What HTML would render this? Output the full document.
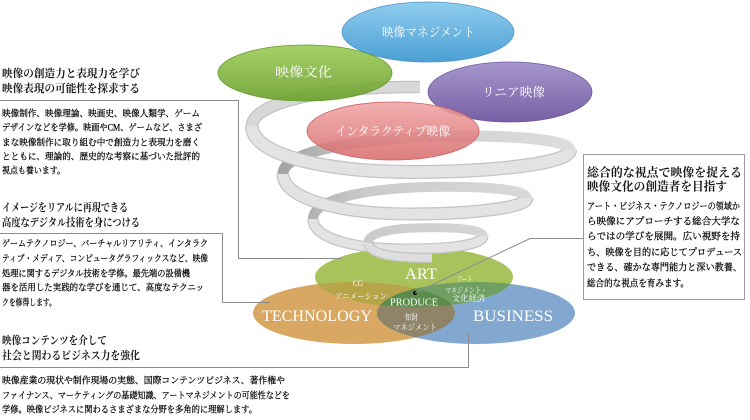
<!DOCTYPE html>
<html><head><meta charset="utf-8"><style>
html,body{margin:0;padding:0;background:#fff;}
svg{display:block;}
.jh{font-family:"Liberation Serif","Noto Serif CJK SC",serif;font-weight:bold;fill:#1a1a1a;}
.jb{font-family:"Liberation Serif","Noto Serif CJK SC",serif;fill:#000;stroke:#000;stroke-width:0.25;}
.w{font-family:"Liberation Serif","Noto Serif CJK SC",serif;fill:#fff;}
</style></head><body>
<svg width="750" height="420" viewBox="0 0 750 420" xmlns="http://www.w3.org/2000/svg">
<defs>
  <linearGradient id="gBlue" x1="0" y1="0" x2="0" y2="1"><stop offset="0" stop-color="#8fcdef"/><stop offset="1" stop-color="#4c9fd4"/></linearGradient>
  <linearGradient id="gGreen" x1="0" y1="0" x2="0" y2="1"><stop offset="0" stop-color="#9dcc58"/><stop offset="1" stop-color="#6a9e2c"/></linearGradient>
  <linearGradient id="gPurple" x1="0" y1="0" x2="0" y2="1"><stop offset="0" stop-color="#a797cd"/><stop offset="1" stop-color="#765fa4"/></linearGradient>
  <linearGradient id="gRed" x1="0" y1="0" x2="0" y2="1"><stop offset="0" stop-color="#efa3a3"/><stop offset="1" stop-color="#d76969"/></linearGradient>
  <linearGradient id="gBack" gradientUnits="userSpaceOnUse" x1="280" y1="0" x2="570" y2="0"><stop offset="0" stop-color="#a3a3a3"/><stop offset="0.3" stop-color="#cbcbcb"/><stop offset="1" stop-color="#dddddd"/></linearGradient>
  <clipPath id="cA"><ellipse cx="414" cy="277" rx="99" ry="30"/></clipPath>
  <clipPath id="cT"><ellipse cx="354" cy="313" rx="101" ry="31"/></clipPath>
  <clipPath id="cB"><ellipse cx="476" cy="313" rx="99" ry="31"/></clipPath>
</defs>

<!-- Venn -->
<ellipse cx="354" cy="313" rx="101" ry="31" fill="#d8a862"/>
<ellipse cx="476" cy="313" rx="99" ry="31" fill="#83a8cf"/>
<ellipse cx="414" cy="277" rx="99" ry="30" fill="#a9c35c"/>
<ellipse cx="414" cy="277" rx="99" ry="30" fill="#b6a649" clip-path="url(#cT)"/>
<ellipse cx="414" cy="277" rx="99" ry="30" fill="#6f9f62" clip-path="url(#cB)"/>
<ellipse cx="476" cy="313" rx="99" ry="31" fill="#8f8468" clip-path="url(#cT)"/>
<g clip-path="url(#cT)"><ellipse cx="476" cy="313" rx="99" ry="31" fill="#5c8c4c" clip-path="url(#cA)"/></g>

<!-- Spiral back halves -->
<g fill="none" stroke-linecap="butt">
  <path d="M420,87 C330,86 252,102 252,126" stroke="#c2c2c2" stroke-width="12.5"/>
  <path d="M420,87 C330,86 252,102 252,126" stroke="#d8d8d8" stroke-width="10"/>
  <path d="M570,150 C570,137 480,134 420,137 C345,141 283,153 283,174" stroke="url(#gBack)" stroke-width="11"/>
  <path d="M527,198 C527,188 470,186 425,187 C365,189 313,199 313,219" stroke="url(#gBack)" stroke-width="10"/>
  <path d="M483,236 C483,228 445,227 415,228 C385,229 368,234 368,243" stroke="url(#gBack)" stroke-width="9"/>
  <!-- front halves -->
  <path d="M252,126 C252,156 330,172 410,172 C490,172 570,164 570,150" stroke="#c4c4c4" stroke-width="14"/>
  <path d="M252,126 C252,156 330,172 410,172 C490,172 570,164 570,150" stroke="#e3e3e3" stroke-width="11.5"/>
  <path d="M283,174 C283,200 345,214 410,214 C470,214 527,208 527,198" stroke="#c4c4c4" stroke-width="13"/>
  <path d="M283,174 C283,200 345,214 410,214 C470,214 527,208 527,198" stroke="#e3e3e3" stroke-width="10.5"/>
  <path d="M313,219 C313,240 360,249 405,249 C450,249 483,245 483,236" stroke="#c4c4c4" stroke-width="11"/>
  <path d="M313,219 C313,240 360,249 405,249 C450,249 483,245 483,236" stroke="#e3e3e3" stroke-width="8.5"/>
  <path d="M368,243 C370,255 395,258 432,258" stroke="#c4c4c4" stroke-width="10"/>
  <path d="M368,243 C370,255 395,258 432,258" stroke="#dedede" stroke-width="7.5"/>
</g>

<!-- Top ellipses -->
<ellipse cx="428" cy="32" rx="86" ry="30" fill="url(#gBlue)" stroke="#4a97c8" stroke-width="0.8"/>
<ellipse cx="305" cy="73" rx="87" ry="28" fill="url(#gGreen)" fill-opacity="0.9" stroke="#649a2a" stroke-width="0.8"/>
<ellipse cx="510" cy="92" rx="82" ry="30" fill="url(#gPurple)" stroke="#6e5a9c" stroke-width="0.8"/>
<ellipse cx="393" cy="131" rx="86" ry="29" fill="url(#gRed)" fill-opacity="0.86" stroke="#cf6262" stroke-width="0.8"/>

<text class="w" x="382" y="36.7" font-size="12.5" textLength="93" lengthAdjust="spacingAndGlyphs">映像マネジメント</text>
<text class="w" x="275" y="76.7" font-size="13" textLength="57" lengthAdjust="spacingAndGlyphs">映像文化</text>
<text class="w" x="482" y="96.7" font-size="12.5" textLength="63" lengthAdjust="spacingAndGlyphs">リニア映像</text>
<text class="w" x="335" y="135.7" font-size="12.5" textLength="115" lengthAdjust="spacingAndGlyphs">インタラクティブ映像</text>

<!-- Venn labels -->
<text class="w" x="405" y="279" font-size="16" textLength="32" lengthAdjust="spacingAndGlyphs">ART</text>
<text class="w" x="262" y="321" font-size="16" textLength="110" lengthAdjust="spacingAndGlyphs">TECHNOLOGY</text>
<text class="w" x="473" y="321" font-size="16" textLength="80" lengthAdjust="spacingAndGlyphs">BUSINESS</text>
<text class="w" x="353" y="286" font-size="8.5" textLength="10" lengthAdjust="spacingAndGlyphs">CG</text>
<text class="w" x="335" y="299" font-size="8" textLength="52" lengthAdjust="spacingAndGlyphs">アニメーション</text>
<text class="w" x="457" y="282" font-size="8" textLength="15" lengthAdjust="spacingAndGlyphs">アート</text>
<text class="w" x="445" y="293" font-size="8" textLength="42" lengthAdjust="spacingAndGlyphs">マネジメント・</text>
<text class="w" x="452" y="301" font-size="8" textLength="33" lengthAdjust="spacingAndGlyphs">文化経済</text>
<text class="w" x="390" y="305.5" font-size="10" textLength="48" lengthAdjust="spacingAndGlyphs">PRODUCE</text>
<text class="w" x="405" y="320" font-size="8" textLength="13" lengthAdjust="spacingAndGlyphs">知財</text>
<text class="w" x="393" y="330" font-size="8" textLength="44" lengthAdjust="spacingAndGlyphs">マネジメント</text>
<circle cx="415" cy="293" r="2" fill="#111"/>

<!-- Connector lines -->
<g fill="none" stroke="#8c8c8c" stroke-width="1">
  <polyline points="0,100.5 238.5,100.5 238.5,258.5 341,258.5"/>
  <polyline points="0,233.5 222.5,233.5 222.5,302.5 270,302.5"/>
  <polyline points="0,367.5 468.5,367.5 468.5,333"/>
  <polyline points="583,238.5 530,238.5 415,293"/>
</g>
<rect x="583.5" y="154.5" width="161" height="145" fill="#fff" stroke="#9a9a9a" stroke-width="1"/>

<!-- Left block 1 -->
<text class="jh" x="2" y="77" font-size="11" textLength="138" lengthAdjust="spacingAndGlyphs">映像の創造力と表現力を学び</text>
<text class="jh" x="2" y="92" font-size="11" textLength="138" lengthAdjust="spacingAndGlyphs">映像表現の可能性を探求する</text>
<text class="jb" x="2" y="116.5" font-size="9" textLength="198" lengthAdjust="spacingAndGlyphs">映像制作、映像理論、映画史、映像人類学、ゲーム</text>
<text class="jb" x="2" y="130.5" font-size="9" textLength="200" lengthAdjust="spacingAndGlyphs">デザインなどを学修。映画やCM、ゲームなど、さまざ</text>
<text class="jb" x="2" y="145.5" font-size="9" textLength="198" lengthAdjust="spacingAndGlyphs">まな映像制作に取り組む中で創造力と表現力を磨く</text>
<text class="jb" x="2" y="159.5" font-size="9" textLength="198" lengthAdjust="spacingAndGlyphs">とともに、理論的、歴史的な考察に基づいた批評的</text>
<text class="jb" x="2" y="173.5" font-size="9" textLength="63" lengthAdjust="spacingAndGlyphs">視点も養います。</text>

<!-- Left block 2 -->
<text class="jh" x="2" y="211" font-size="11" textLength="126" lengthAdjust="spacingAndGlyphs">イメージをリアルに再現できる</text>
<text class="jh" x="2" y="226" font-size="11" textLength="138" lengthAdjust="spacingAndGlyphs">高度なデジタル技術を身につける</text>
<text class="jb" x="2" y="246.5" font-size="9" textLength="206" lengthAdjust="spacingAndGlyphs">ゲームテクノロジー、バーチャルリアリティ、インタラク</text>
<text class="jb" x="2" y="261.5" font-size="9" textLength="206" lengthAdjust="spacingAndGlyphs">ティブ・メディア、コンピュータグラフィックスなど、映像</text>
<text class="jb" x="2" y="276.5" font-size="9" textLength="188" lengthAdjust="spacingAndGlyphs">処理に関するデジタル技術を学修。最先端の設備機</text>
<text class="jb" x="2" y="290.5" font-size="9" textLength="202" lengthAdjust="spacingAndGlyphs">器を活用した実践的な学びを通じて、高度なテクニッ</text>
<text class="jb" x="2" y="305.5" font-size="9" textLength="54" lengthAdjust="spacingAndGlyphs">クを修得します。</text>

<!-- Left block 3 -->
<text class="jh" x="2" y="344" font-size="11" textLength="105" lengthAdjust="spacingAndGlyphs">映像コンテンツを介して</text>
<text class="jh" x="2" y="359" font-size="11" textLength="138" lengthAdjust="spacingAndGlyphs">社会と関わるビジネス力を強化</text>
<text class="jb" x="2" y="383.5" font-size="9" textLength="283" lengthAdjust="spacingAndGlyphs">映像産業の現状や制作現場の実態、国際コンテンツビジネス、著作権や</text>
<text class="jb" x="2" y="398.5" font-size="9" textLength="288" lengthAdjust="spacingAndGlyphs">ファイナンス、マーケティングの基礎知識、アートマネジメントの可能性などを</text>
<text class="jb" x="2" y="412.5" font-size="9" textLength="255" lengthAdjust="spacingAndGlyphs">学修。映像ビジネスに関わるさまざまな分野を多角的に理解します。</text>

<!-- Right box -->
<text class="jh" x="587" y="176.5" font-size="12" textLength="155" lengthAdjust="spacingAndGlyphs">総合的な視点で映像を捉える</text>
<text class="jh" x="587" y="190.5" font-size="12" textLength="140" lengthAdjust="spacingAndGlyphs">映像文化の創造者を目指す</text>
<text class="jb" x="587" y="209.6" font-size="9.5" textLength="153" lengthAdjust="spacingAndGlyphs">アート・ビジネス・テクノロジーの領域か</text>
<text class="jb" x="587" y="224.6" font-size="9.5" textLength="153" lengthAdjust="spacingAndGlyphs">ら映像にアプローチする総合大学な</text>
<text class="jb" x="587" y="239.6" font-size="9.5" textLength="153" lengthAdjust="spacingAndGlyphs">らではの学びを展開。広い視野を持</text>
<text class="jb" x="587" y="255.6" font-size="9.5" textLength="155" lengthAdjust="spacingAndGlyphs">ち、映像を目的に応じてプロデュース</text>
<text class="jb" x="587" y="270.6" font-size="9.5" textLength="155" lengthAdjust="spacingAndGlyphs">できる、確かな専門能力と深い教養、</text>
<text class="jb" x="587" y="286.6" font-size="9.5" textLength="102" lengthAdjust="spacingAndGlyphs">総合的な視点を育みます。</text>
</svg>
</body></html>
